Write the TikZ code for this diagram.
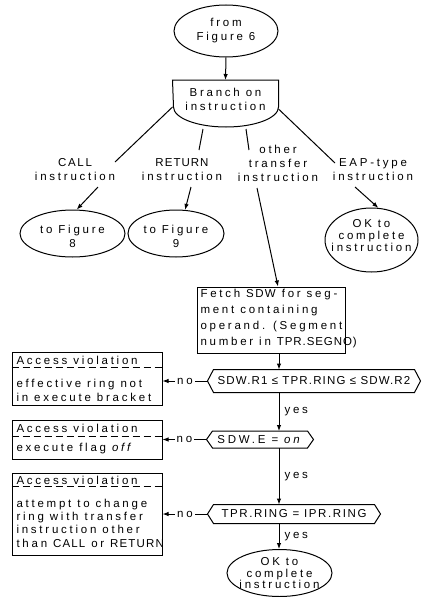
\documentclass[tikz,border=0pt]{standalone}
\usepackage{fontspec}
\setmainfont{Liberation Sans}[LetterSpace=24]
\usetikzlibrary{arrows.meta,shapes.geometric}
\newcommand\hexframe[2]{\draw (#1.west) -- ([xshift=#2]#1.north west) -- ([xshift=-#2]#1.north east) -- (#1.east) -- ([xshift=-#2]#1.south east) -- ([xshift=#2]#1.south west) -- cycle;}
\newcommand\lsp[2]{{\addfontfeature{LetterSpace=#1}#2}}
\begin{document}
\begin{tikzpicture}[x=1pt,y=-1pt,line width=1pt,
  every node/.style={inner sep=0pt,font=\fontsize{11.5}{14}\selectfont},
  lbl/.style={align=center},
  ell/.style={ellipse,draw},
  box/.style={rectangle,draw},
  arr/.style={-{Latex[length=6pt,width=4.5pt]}},
  sep/.style={dash pattern=on 7pt off 4pt,line width=0.8pt},
  hx/.style={rectangle,align=center},
  txl/.style={align=left,anchor=west},
  nolbl/.style={fill=white,inner xsep=2pt},
  yeslbl/.style={right=5pt},
]
\useasboundingbox (0,0) rectangle (421,597);
\fill[white] (0,0) rectangle (421,597);
\coordinate (spine) at (279,0);

% top
\node[ell,minimum width=104,minimum height=52] (from) at (226,31) {};
\node[lbl] (fromt) at (from) {from\\Figure 6};
\node[minimum width=105,minimum height=46,anchor=north] (br) at (225.5,80) {};
\draw (br.north west) -- (br.north east) -- ([yshift=20pt]br.south east) arc[start angle=0,end angle=180,x radius=52.5,y radius=20] -- cycle;
\node[lbl] (brt) at (225.5,99.5) {Branch on\\instruction};
\draw[arr] (from.south) -- (br.north);

% branch labels
\node[lbl] (call) at (75,170) {\lsp{15}{CALL}\\instruction};
\node[lbl] (ret) at (182,170) {\lsp{9}{RETURN}\\instruction};
\node[lbl] (oth) at (278,163.5) {other\\transfer\\instruction};
\node[lbl] (eap) at (373,170) {EAP-type\\instruction};

\draw ([yshift=20pt]br.south west) -- ([xshift=40pt,yshift=8pt]call.center);
\draw ([xshift=-22.5pt,yshift=-2pt]br.south) -- ([xshift=17pt,yshift=20pt]ret.center);
\draw ([xshift=20.5pt,yshift=-2pt]br.south) -- ([xshift=-29pt,yshift=13.5pt]oth.center);
\draw ([yshift=18pt]br.south east) -- ([xshift=-38pt,yshift=7pt]eap.center);

% targets
\node[ell,minimum width=105,minimum height=47] (f8) at (72.5,233.5) {};
\node[lbl] (f8t) at (72.5,236) {to Figure\\8};
\node[ell,minimum width=96,minimum height=47] (f9) at (176,233.5) {};
\node[lbl] (f9t) at (176,236) {to Figure\\9};
\node[ell,minimum width=93,minimum height=64] (ok1) at (371.5,240) {};
\node[lbl,font=\fontsize{11.5}{12}\selectfont] (ok1t) at (371.5,235.5) {OK to\\complete\\instruction};

\draw[arr] ([xshift=23pt,yshift=-17pt]call.center) -- (f8.80);
\draw[arr] ([xshift=9pt,yshift=-17pt]ret.center) -- (f9.69);
\draw[arr] ([xshift=-18pt,yshift=-17pt]eap.center) -- (ok1.78);

% fetch
\node[box,minimum width=148,minimum height=66] (fetch) at (271,320) {};
\node[txl,font=\fontsize{11.5}{16}\selectfont] (fetcht) at (200,319) {Fetch \lsp{12}{SDW} for seg-\\ment containing\\operand. (Segment\\number in \lsp{8}{TPR.SEGNO)}};
\draw[arr] ([xshift=-21pt,yshift=-24.5pt]oth.center) -- ([xshift=7pt]fetch.north);

% decisions
\node[hx,minimum width=212,minimum height=22] (d1) at (314,381) {\lsp{10}{SDW.R1 ≤ TPR.RING ≤ SDW.R2}};
\hexframe{d1}{6}
\node[hx,minimum width=106,minimum height=16] (d2) at (260,439.5) {SDW.E = \textit{on}};
\hexframe{d2}{6}
\node[hx,minimum width=172,minimum height=18] (d3) at (294,514) {\lsp{14}{TPR.RING = IPR.RING}};
\hexframe{d3}{6}
\node[ell,minimum width=105,minimum height=47] (end) at (279.5,573) {};
\node[lbl,font=\fontsize{11.5}{11.5}\selectfont] (endt) at (279.5,573.5) {OK to\\complete\\instruction};

\draw[arr] (spine |- fetch.south) -- (spine |- d1.north);
\draw[arr] (spine |- d1.south) -- node[yeslbl]{yes} (spine |- d2.north);
\draw[arr] (spine |- d2.south) -- node[yeslbl]{yes} (spine |- d3.north);
\draw[arr] (spine |- d3.south) -- node[yeslbl]{yes} (spine |- end.north);

% access violation boxes
\node[box,minimum width=150,minimum height=53] (av1) at (87,378.5) {};
\draw[sep] ([yshift=-16pt]av1.north west) -- ([yshift=-16pt]av1.north east);
\node[txl] (av1t) at (16,360) {Access violation};
\node[txl] (av1b) at (16,390) {effective ring not\\in execute bracket};

\node[box,minimum width=150,minimum height=39] (av2) at (87,439.5) {};
\draw[sep] ([yshift=-17pt]av2.north west) -- ([yshift=-17pt]av2.north east);
\node[txl] (av2t) at (16,428) {Access violation};
\node[txl] (av2b) at (16,449) {execute flag \textit{off}};

\node[box,minimum width=150,minimum height=82] (av3) at (87,514) {};
\draw[sep] ([yshift=-14pt]av3.north west) -- ([yshift=-14pt]av3.north east);
\node[txl] (av3t) at (16,480) {Access violation};
\node[txl,font=\fontsize{11.5}{13.4}\selectfont] (av3b) at (16,523) {attempt to change\\ring with transfer\\instruction other\\than \lsp{10}{CALL} or \lsp{10}{RETURN}};

\draw[arr] (d1.west) -- node[nolbl]{no} (d1.west -| av1.east);
\draw[arr] (d2.west) -- node[nolbl]{no} (d2.west -| av2.east);
\draw[arr] (d3.west) -- node[nolbl]{no} (d3.west -| av3.east);
\end{tikzpicture}
\end{document}
